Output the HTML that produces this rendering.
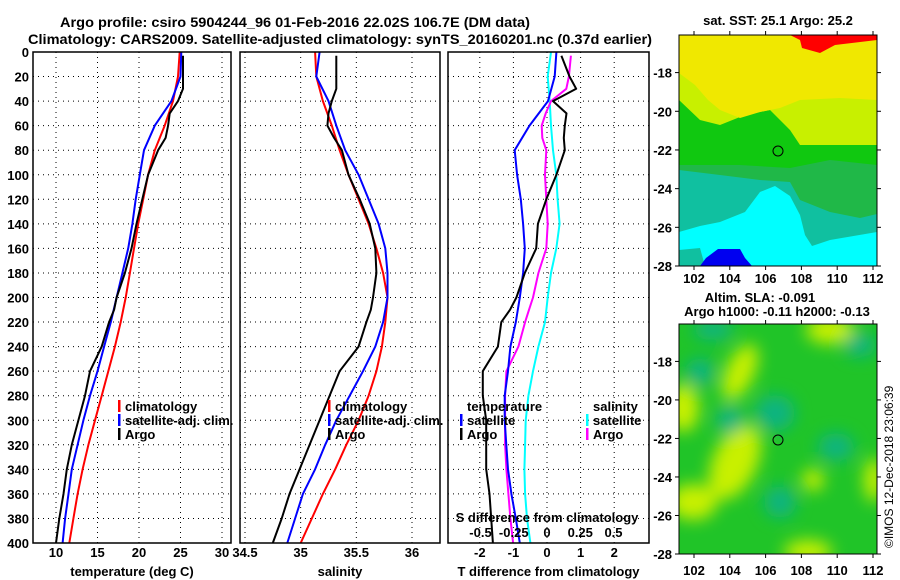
<!DOCTYPE html>
<html><head><meta charset="utf-8">
<style>
html,body{margin:0;padding:0;background:#fff;}
svg{display:block;font-family:"Liberation Sans",sans-serif;font-weight:bold;}
</style></head>
<body>
<svg id="chart" width="900" height="580" viewBox="0 0 900 580" xmlns="http://www.w3.org/2000/svg">
<defs>
<filter id="blur" x="-20%" y="-20%" width="140%" height="140%"><feGaussianBlur stdDeviation="8"/></filter>
<clipPath id="clipMap2"><rect x="679" y="324" width="198" height="230"/></clipPath>
</defs>
<text x="60" y="27" font-size="14" textLength="470" lengthAdjust="spacingAndGlyphs">Argo profile: csiro 5904244_96 01-Feb-2016 22.02S 106.7E (DM data)</text>
<text x="28" y="44" font-size="14" textLength="624" lengthAdjust="spacingAndGlyphs">Climatology: CARS2009. Satellite-adjusted climatology: synTS_20160201.nc (0.37d earlier)</text>
<g id="panels"></g>
<!-- SST map -->
<g>
<text x="778" y="25" font-size="13" text-anchor="middle">sat. SST: 25.1 Argo: 25.2</text>
<rect x="679" y="35" width="198" height="231" fill="#10c810"/>
<polygon fill="#c8f000" points="679,100 700,120 720,125 745,115 770,110 790,130 800,145 877,145 877,35 679,35"/>
<polygon fill="#f0e800" points="679,35 877,35 877,100 840,98 800,100 780,108 760,112 740,118 720,110 708,100 695,85 679,73"/>
<polygon fill="#20b848" points="679,165 740,165 790,168 830,160 877,165 877,225 820,228 679,215"/>
<polygon fill="#10c0a0" points="679,170 720,175 760,180 790,182 800,200 830,212 860,218 877,214 877,266 679,266"/>
<polygon fill="#00ffff" points="679,232 700,226 720,222 745,212 760,192 775,186 790,196 800,215 805,235 812,246 830,240 877,232 877,266 679,266"/>
<polygon fill="#10c0a0" points="679,250 700,248 705,266 679,266"/>
<polygon fill="#0000f0" points="718,249 740,249 745,258 752,266 700,266 706,258"/>
<polygon fill="#ff0000" points="790,35 877,35 877,40 835,45 820,53 802,48 800,40"/>
<circle cx="778" cy="151" r="5" fill="none" stroke="#000" stroke-width="1"/>
<rect x="679" y="35" width="198" height="231" fill="none" stroke="#000" stroke-width="1"/>
</g>
<!-- SLA map -->
<g>
<text x="760" y="302" font-size="13" text-anchor="middle">Altim. SLA: -0.091</text>
<text x="777" y="316" font-size="13" text-anchor="middle">Argo h1000: -0.11 h2000: -0.13</text>
<g clip-path="url(#clipMap2)">
<rect x="679" y="324" width="198" height="230" fill="#20c428"/>
<g filter="url(#blur)">
<ellipse cx="830" cy="330" rx="24" ry="14" fill="#c8f000"/>
<ellipse cx="740" cy="372" rx="14" ry="30" fill="#c8f000" transform="rotate(25 740 372)"/>
<ellipse cx="683" cy="408" rx="16" ry="24" fill="#c8f000"/>
<ellipse cx="735" cy="462" rx="22" ry="40" fill="#c8f000" transform="rotate(25 735 462)"/>
<ellipse cx="693" cy="502" rx="24" ry="18" fill="#c8f000"/>
<ellipse cx="813" cy="480" rx="11" ry="11" fill="#c8f000"/>
<ellipse cx="874" cy="480" rx="10" ry="22" fill="#c8f000"/>
<ellipse cx="808" cy="552" rx="24" ry="12" fill="#c8f000"/>
<ellipse cx="700" cy="372" rx="14" ry="14" fill="#10b480"/>
<ellipse cx="775" cy="413" rx="20" ry="18" fill="#10b480"/>
<ellipse cx="780" cy="502" rx="16" ry="16" fill="#10b480"/>
<ellipse cx="836" cy="447" rx="18" ry="14" fill="#10b480"/>
<ellipse cx="713" cy="330" rx="20" ry="10" fill="#10b480"/>
<ellipse cx="860" cy="345" rx="16" ry="12" fill="#10b480"/>
<ellipse cx="730" cy="420" rx="14" ry="14" fill="#10b480"/>
</g>
</g>
<circle cx="778" cy="440" r="5" fill="none" stroke="#000" stroke-width="1"/>
<rect x="679" y="324" width="198" height="230" fill="none" stroke="#000" stroke-width="1"/>
</g>
<g id="mapaxes"></g>
<text transform="translate(893,548) rotate(-90)" font-size="12" font-weight="normal">©IMOS 12-Dec-2018 23:06:39</text>
</svg>
<script>
// ---- data ----
const depths = [0,20,40,60,80,100,120,140,160,180,200,220,240,260,280,300,320,340,360,380,400];
const tempClim = [24.9,24.7,24.1,23.1,21.9,21.1,20.5,19.9,19.4,18.9,18.4,17.8,17.1,16.3,15.5,14.7,13.9,13.2,12.6,12.1,11.6];
const tempSat  = [25.1,25.0,23.9,21.9,20.6,20.1,19.6,19.2,18.7,18.0,17.3,16.6,15.8,15.0,14.1,13.3,12.6,11.9,11.5,11.1,10.8];
const argoDepths = [3,20,30,40,50,60,70,80,100,120,140,160,180,200,210,220,240,260,280,300,320,340,360,380,400];
const tempArgo = [25.3,25.3,25.3,24.7,23.7,23.5,23.2,22.3,21.1,20.4,19.7,19.1,18.3,17.3,17.0,16.4,15.5,14.1,13.5,12.7,11.9,11.3,10.9,10.4,10.0];
const salClim = [35.13,35.14,35.20,35.28,35.35,35.43,35.52,35.61,35.68,35.74,35.78,35.76,35.73,35.68,35.61,35.52,35.41,35.31,35.20,35.10,35.00];
const salSat  = [35.17,35.14,35.25,35.32,35.40,35.52,35.61,35.70,35.76,35.78,35.78,35.74,35.67,35.56,35.44,35.32,35.22,35.13,35.02,34.95,34.88];
const salArgo = [35.32,35.32,35.32,35.28,35.25,35.24,35.30,35.37,35.43,35.53,35.62,35.67,35.68,35.65,35.63,35.59,35.52,35.35,35.26,35.17,35.08,34.99,34.90,34.83,34.75];
const dTsat  = [0.28,0.23,0.03,-0.52,-0.96,-0.89,-0.78,-0.71,-0.66,-0.71,-0.81,-0.93,-1.09,-1.16,-1.26,-1.26,-1.21,-1.16,-1.06,-0.93,-0.81];
const dTargo = [0.43,0.67,0.87,0.18,0.58,0.53,0.50,0.53,0.28,-0.02,-0.27,-0.32,-0.66,-0.91,-1.10,-1.36,-1.46,-1.91,-1.91,-1.81,-1.81,-1.81,-1.71,-1.66,-1.61];
const dSsat  = [0.03,0.005,0.02,0.03,0.045,0.07,0.08,0.095,0.07,0.03,0.005,-0.015,-0.065,-0.105,-0.14,-0.16,-0.165,-0.17,-0.165,-0.15,-0.125];
const dSargo = [0.18,0.165,0.145,0.03,-0.01,-0.04,-0.035,-0.005,-0.015,-0.005,0.005,-0.005,-0.065,-0.105,-0.135,-0.165,-0.215,-0.305,-0.315,-0.315,-0.315,-0.305,-0.29,-0.275,-0.255];
const depthTicks = [0,20,40,60,80,100,120,140,160,180,200,220,240,260,280,300,320,340,360,380,400];
const tempTicks = [10,15,20,25,30];
const salTicks = [34.5,35,35.5,36];
const salTickLabels = ["34.5","35","35.5","36"];
const dTTicks = [-2,-1,0,1,2];
const dSTicks = [-0.5,-0.25,0,0.25,0.5];
const dSTickLabels = ["-0.5","-0.25","0","0.25","0.5"];
const lonTicks = [102,104,106,108,110,112];
const latTicks = [-18,-20,-22,-24,-26,-28];

const NS = "http://www.w3.org/2000/svg";
const g = document.getElementById('panels');
function mk(tag, attrs, parent){ const e=document.createElementNS(NS,tag); for(const k in attrs) e.setAttribute(k,attrs[k]); (parent||g).appendChild(e); return e; }
const Y0=52, Y1=543;
const yScale = d => Y0 + (d/400)*(Y1-Y0);
function lin(d0,d1,r0,r1){ return v => r0 + (v-d0)/(d1-d0)*(r1-r0); }
const panels = [
  {name:'temperature-panel', x0:33, x1:231, sx:lin(10,30,56,222), ticks:tempTicks, labels:tempTicks.map(String), title:'temperature (deg C)'},
  {name:'salinity-panel', x0:240, x1:440, sx:lin(34.5,36,245,412), ticks:salTicks, labels:salTickLabels, title:'salinity'},
  {name:'difference-panel', x0:448, x1:649, sx:lin(0,1,547,580.6), ticks:dTTicks, labels:dTTicks.map(String), title:'T difference from climatology'}
];
panels.forEach((p,pi)=>{
  const pg = mk('g',{});
  
  
  depthTicks.slice(1,-1).forEach(d=>{
    const l=mk('line',{x1:p.x0,x2:p.x1,y1:yScale(d),y2:yScale(d),stroke:'#000','stroke-width':1,'stroke-dasharray':'1,4'},pg);
    
    
  });
  p.ticks.forEach((t,i)=>{
    const x=p.sx(t);
    const l=mk('line',{x1:x,x2:x,y1:Y0,y2:Y1,stroke:'#000','stroke-width':1,'stroke-dasharray':'1,4'},pg);
    
    
    const tx=mk('text',{x:x,y:557,'font-size':13,'text-anchor':'middle'},pg);
    tx.textContent=p.labels[i];
    
    
  });
  const tt=mk('text',{x:(p.x0+p.x1)/2,y:576,'font-size':13,'text-anchor':'middle'},pg);
  tt.textContent=p.title;
  
  
  p.g=pg;
});
depthTicks.forEach(d=>{
  const t=mk('text',{x:29,y:yScale(d)+5,'font-size':13,'text-anchor':'end'});
  t.textContent=String(d);
  
  
});
function line(pg, xs, ds, sx, color, name){
  const pts = xs.map((v,i)=> sx(v).toFixed(1)+','+yScale(ds[i]).toFixed(1)).join(' ');
  const pl=mk('polyline',{points:pts,fill:'none',stroke:color,'stroke-width':2,'stroke-linejoin':'round'},pg);
  
  
}
const P=panels;
line(P[0].g,tempClim,depths,P[0].sx,'#ff0000','temp-climatology-line');
line(P[0].g,tempSat,depths,P[0].sx,'#0000ff','temp-satellite-line');
line(P[0].g,tempArgo,argoDepths,P[0].sx,'#000000','temp-argo-line');
line(P[1].g,salClim,depths,P[1].sx,'#ff0000','sal-climatology-line');
line(P[1].g,salSat,depths,P[1].sx,'#0000ff','sal-satellite-line');
line(P[1].g,salArgo,argoDepths,P[1].sx,'#000000','sal-argo-line');
const sxS = lin(0,0.5,547,613.5);
line(P[2].g,dSsat,depths,sxS,'#00ffff','dS-satellite-line');
line(P[2].g,dSargo,argoDepths,sxS,'#ff00ff','dS-argo-line');
line(P[2].g,dTsat,depths,P[2].sx,'#0000ff','dT-satellite-line');
line(P[2].g,dTargo,argoDepths,P[2].sx,'#000000','dT-argo-line');
dSTicks.forEach((t,i)=>{
  const tx=mk('text',{x:sxS(t),y:537,'font-size':13,'text-anchor':'middle'},P[2].g);
  tx.textContent=dSTickLabels[i];
  
  
});
const st=mk('text',{x:547,y:522,'font-size':13,'text-anchor':'middle'},P[2].g);
st.textContent='S difference from climatology';


panels.forEach(p=>{
  const r=mk('rect',{x:p.x0,y:Y0,width:p.x1-p.x0,height:Y1-Y0,fill:'none',stroke:'#000','stroke-width':1.5},p.g);
  
  
});
function legend(pg,x,y,color,label,name){
  const lg=mk('g',{},pg);
  
  
  mk('rect',{x:x,y:y-11,width:2.5,height:12,fill:color},lg);
  const t=mk('text',{x:x+7,y:y,'font-size':13},lg);
  t.textContent=label;
}
legend(P[0].g,118,411,'#ff0000','climatology','legend-climatology');
legend(P[0].g,118,425,'#0000ff','satellite-adj. clim.','legend-satellite-adj');
legend(P[0].g,118,439,'#000000','Argo','legend-argo');
legend(P[1].g,328,411,'#ff0000','climatology','legend-sal-climatology');
legend(P[1].g,328,425,'#0000ff','satellite-adj. clim.','legend-sal-satellite-adj');
legend(P[1].g,328,439,'#000000','Argo','legend-sal-argo');
const lt=mk('text',{x:467,y:411,'font-size':13},P[2].g); lt.textContent='temperature';


const ls=mk('text',{x:593,y:411,'font-size':13},P[2].g); ls.textContent='salinity';


legend(P[2].g,460,425,'#0000ff','satellite','legend-temp-satellite');
legend(P[2].g,460,439,'#000000','Argo','legend-temp-argo');
legend(P[2].g,586,425,'#00ffff','satellite','legend-sal-satellite');
legend(P[2].g,586,439,'#ff00ff','Argo','legend-sal-argo');
const ma=document.getElementById('mapaxes');
const lonX = lin(102,112,694,873);
[[35,266,72.6,278],[324,554,361.4,570]].forEach(([top,bot,y18,labY])=>{
  const ly = v => y18 + (-18 - v)*((bot-y18)/10);
  lonTicks.forEach(l=>{
    const x=lonX(l);
    mk('line',{x1:x,x2:x,y1:bot,y2:bot+4,stroke:'#000'},ma);
    mk('line',{x1:x,x2:x,y1:top,y2:top-4,stroke:'#000'},ma);
    const t=mk('text',{x:x,y:labY+5,'font-size':13,'text-anchor':'middle'},ma);
    t.textContent=String(l);
    
    
  });
  latTicks.forEach(l=>{
    const y=ly(l);
    mk('line',{x1:679,x2:675,y1:y,y2:y,stroke:'#000'},ma);
    mk('line',{x1:877,x2:881,y1:y,y2:y,stroke:'#000'},ma);
    const t=mk('text',{x:672,y:y+5,'font-size':13,'text-anchor':'end'},ma);
    t.textContent=String(l);
    
    
  });
});
</script>
</body></html>
